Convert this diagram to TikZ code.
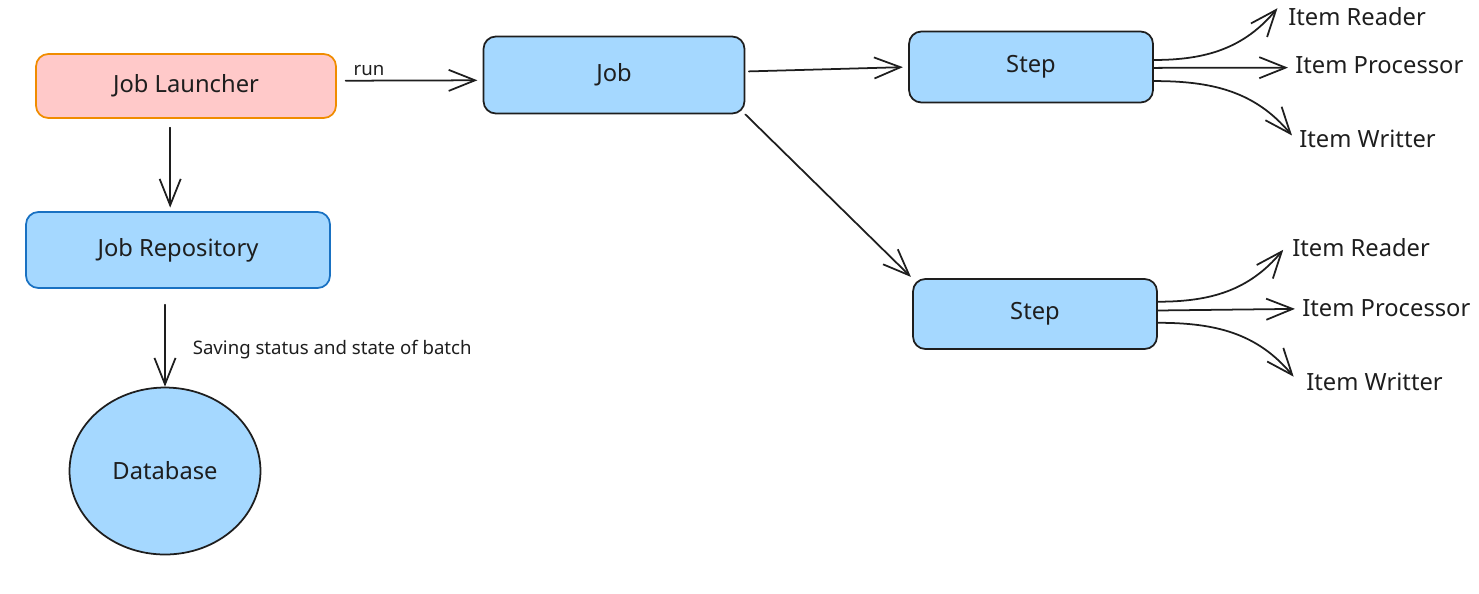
\documentclass[tikz,border=0pt]{standalone}
\usepackage{fontspec}
\setmainfont{Noto Sans}
\usetikzlibrary{arrows.meta,shapes.geometric}

\definecolor{boxblue}{HTML}{A5D8FF}
\definecolor{boxpink}{HTML}{FFC9C9}
\definecolor{edgeorange}{HTML}{F08C00}
\definecolor{edgeblue}{HTML}{1971C2}
\definecolor{ink}{HTML}{1E1E1E}

\tikzset{
	box/.style={draw=ink, fill=boxblue, rounded corners=7pt, line width=1pt, text=ink, font=\fontsize{13.5}{15}\selectfont},
	item/.style={anchor=west, inner sep=0pt, text=ink, font=\fontsize{13.5}{15}\selectfont},
	link/.style={draw=ink, line width=1pt, -{Straight Barb[length=15pt,width=12pt,line width=1pt]}},
	small/.style={text=ink, font=\fontsize{10.6}{12}\selectfont}
}

\begin{document}
\begin{tikzpicture}[x=0.02cm, y=-0.02cm, line join=round, line cap=round]
	\useasboundingbox (0,0) rectangle (1479,593);

	% left column
	\node[box, fill=boxpink, draw=edgeorange, minimum width=6cm, minimum height=1.28cm] (launch) at (186,86) {Job Launcher};
	\node[box, draw=edgeblue, minimum width=6.08cm, minimum height=1.52cm] (repo) at (178,250) {Job Repository};
	\node[box, ellipse, minimum width=3.82cm, minimum height=3.34cm] (db) at (165,471) {Database};

	% job and steps
	\node[box, minimum width=5.22cm, minimum height=1.54cm] (job) at (614,75) {Job};
	\node[box, minimum width=4.88cm, minimum height=1.42cm] (step1) at (1031,67) {Step};
	\node[box, minimum width=4.88cm, minimum height=1.40cm] (step2) at (1035,314) {Step};

	% items
	\node[item] (r1) at (1288,17) {Item Reader};
	\node[item] (p1) at (1295,65) {Item Processor};
	\node[item] (w1) at (1299,139) {Item Writter};
	\node[item] (r2) at (1292,248) {Item Reader};
	\node[item] (p2) at (1302,308) {Item Processor};
	\node[item] (w2) at (1306,382) {Item Writter};

	\draw[link, shorten <=5pt, shorten >=3pt] ([yshift=3pt]launch.east) -- ([yshift=-3pt]job.west)
		node[small, pos=0.22, above=-1pt] {run};
	\draw[link, shorten <=5pt, shorten >=2pt] ([xshift=-9pt]launch.south) -- ([xshift=-9pt]launch.south |- repo.north);
	\draw[link, shorten <=9pt] (db.north |- repo.south) -- (db.north)
		node[small, pos=0.62, right=12pt] {Saving status and state of batch};

	\draw[link, shorten <=2pt, shorten >=3pt] ([yshift=2pt]job.east) -- (step1.west);
	\draw[link, shorten >=1pt] (job.south east) -- (step2.north west);

	\draw[link] ([yshift=4pt]step1.east) to[out=0, in=230] ([xshift=-6pt, yshift=5pt]r1.west);
	\draw[link] ([yshift=-0.5pt]step1.east) -- ([xshift=-4pt, yshift=-1.5pt]p1.west);
	\draw[link] ([yshift=-8pt]step1.east) to[out=0, in=130] ([xshift=-4pt, yshift=2pt]w1.west);

	\draw[link] ([yshift=7pt]step2.east) to[out=0, in=230] ([xshift=-5pt, yshift=-1pt]r2.west);
	\draw[link] ([yshift=2pt]step2.east) -- ([xshift=-4pt, yshift=-0.5pt]p2.west);
	\draw[link] ([yshift=-5pt]step2.east) to[out=0, in=130] ([xshift=-7pt, yshift=3pt]w2.west);
\end{tikzpicture}
\end{document}
